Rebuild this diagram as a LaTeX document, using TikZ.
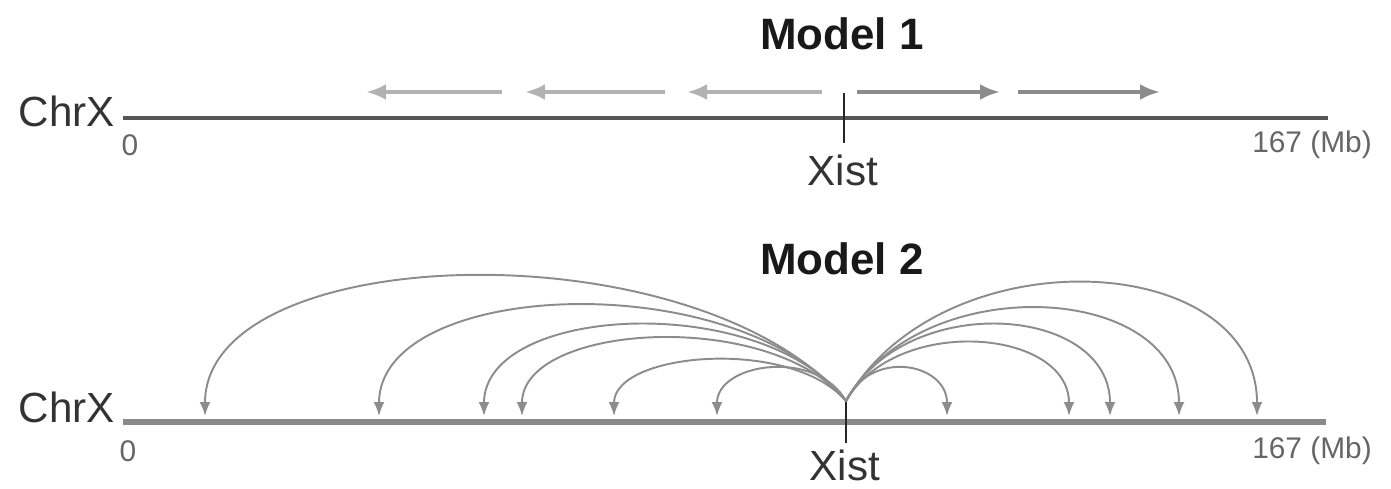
\documentclass[tikz,border=0pt]{standalone}
\usepackage{fontspec}
\setmainfont{Liberation Sans}
\usetikzlibrary{arrows.meta}
\definecolor{chrdark}{HTML}{555555}
\definecolor{chrgray}{HTML}{8A8A8A}
\definecolor{arrlight}{HTML}{B2B2B2}
\definecolor{arrdark}{HTML}{8C8C8C}
\begin{document}
\begin{tikzpicture}[x=0.02cm, y=-0.02cm,
  title/.style={font=\bfseries\fontsize{25}{30}\selectfont, text=black!90},
  lbl/.style={font=\fontsize{24}{28}\selectfont, text=black!80},
  small/.style={font=\fontsize{17}{20}\selectfont, text=black!60},
  chrone/.style={line width=2.8pt, chrdark},
  chrtwo/.style={line width=3.4pt, chrgray},
  tick/.style={line width=1.2pt, black!85},
  spreadl/.style={line width=2.2pt, arrlight, -{Latex[length=4mm,width=3.2mm]}},
  spreadr/.style={line width=2.2pt, arrdark, -{Latex[length=4mm,width=3.2mm]}},
  loop/.style={line width=1.1pt, arrdark, -{Latex[length=2.8mm,width=2.2mm]}}]
\useasboundingbox (0,0) rectangle (1391,488);
% Model 1
\node[title] (m1) at (842,34) {Model 1};
\coordinate (a0) at (123,118);
\coordinate (a1) at (1328,118);
\draw[chrone] (a0) -- (a1);
\node[lbl] (chr1) at (67,111) {ChrX};
\node[small] (zero1) at (130,145) {0};
\node[small] (end1) at (1312,145) {167 (Mb)};
\coordinate (xt1) at (844,93);
\coordinate (xb1) at (844,143);
\draw[tick] (xt1) -- (xb1);
\node[lbl] (xist1) at (843,170) {Xist};
\foreach \s/\e [count=\i] in {502/366, 665/525, 822/687}
{
    \coordinate (ls\i) at (\s,92);
    \coordinate (le\i) at (\e,92);
    \draw[spreadl] (ls\i) -- (le\i);
}
\foreach \s/\e [count=\i] in {857/1000, 1018/1160}
{
    \coordinate (rs\i) at (\s,92);
    \coordinate (re\i) at (\e,92);
    \draw[spreadr] (rs\i) -- (re\i);
}
% Model 2
\node[title] (m2) at (842,259) {Model 2};
\coordinate (b0) at (123,422);
\coordinate (b1) at (1326,422);
\draw[chrtwo] (b0) -- (b1);
\node[lbl] (chr2) at (67,407) {ChrX};
\node[small] (zero2) at (128,451) {0};
\node[small] (end2) at (1312,451) {167 (Mb)};
\coordinate (xist) at (846,401);
\coordinate (xb2) at (846,443);
\draw[tick] (xist) -- (xb2);
\node[lbl] (xist2) at (845,465) {Xist};
\foreach \t/\h/\a [count=\i] in {205/176/150, 379/137/110, 484/111/85, 522/93/75, 614/64/55, 717/53/30}
{
    \coordinate (lt\i) at (\t,416);
    \draw[loop] (xist) .. controls +(-\a,-\h) and +(0,-\h) .. (lt\i);
}
\foreach \t/\h/\a [count=\i] in {947/53/25, 1069/87/50, 1110/111/60, 1179/133/75, 1257/167/95}
{
    \coordinate (rt\i) at (\t,416);
    \draw[loop] (xist) .. controls +(\a,-\h) and +(0,-\h) .. (rt\i);
}
\end{tikzpicture}
\end{document}
